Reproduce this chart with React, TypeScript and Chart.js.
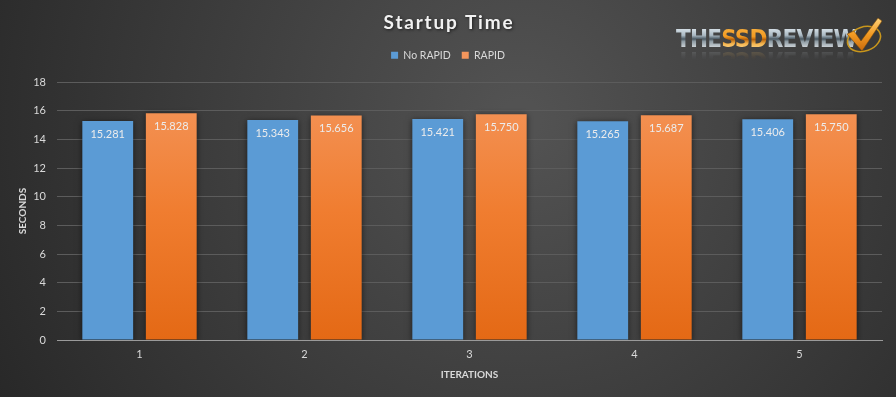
import React, { useEffect, useRef } from "react";
import { Chart, registerables } from "chart.js";

Chart.register(...registerables);

const categories = ["1", "2", "3", "4", "5"];
const noRapid = [15.281, 15.343, 15.421, 15.265, 15.406];
const rapid = [15.828, 15.656, 15.75, 15.687, 15.75];
const seriesNames = ["No RAPID", "RAPID"];
const titleText = "Startup Time";

const FONT = "Lato, 'Open Sans', sans-serif";

const bgPlugin = {
  id: "bg",
  beforeDraw(chart: any) {
    const { ctx, width, height } = chart;
    ctx.save();
    const g = ctx.createRadialGradient(520, 120, 20, 520, 120, 620);
    g.addColorStop(0, "#525252");
    g.addColorStop(1, "#262626");
    ctx.fillStyle = g;
    ctx.fillRect(0, 0, width, height);
    ctx.restore();
  },
};

const titlePlugin = {
  id: "customTitle",
  afterDraw(chart: any) {
    const ctx = chart.ctx;
    ctx.save();
    ctx.font = `bold 19px ${FONT}`;
    (ctx as any).letterSpacing = "1.8px";
    ctx.fillStyle = "#f2f2f2";
    ctx.textAlign = "center";
    ctx.textBaseline = "middle";
    ctx.shadowColor = "rgba(0,0,0,0.6)";
    ctx.shadowBlur = 3;
    ctx.shadowOffsetX = 1;
    ctx.shadowOffsetY = 1;
    ctx.fillText(titleText, 449, 23);
    ctx.restore();
  },
};

const legendHeightPlugin = {
  id: "legendHeight",
  beforeInit(chart: any) {
    const orig = chart.legend.fit;
    chart.legend.fit = function () {
      orig.bind(this)();
      this.height = 43;
    };
  },
};

const shadowPlugin = {
  id: "barShadow",
  beforeDatasetDraw(chart: any) {
    const ctx = chart.ctx;
    ctx.save();
    ctx.shadowColor = "rgba(0,0,0,0.55)";
    ctx.shadowBlur = 6;
    ctx.shadowOffsetX = 0;
    ctx.shadowOffsetY = 1;
  },
  afterDatasetDraw(chart: any) {
    chart.ctx.restore();
  },
};

const labelPlugin = {
  id: "valLabels",
  afterDatasetsDraw(chart: any) {
    const ctx = chart.ctx;
    ctx.save();
    ctx.font = `11px ${FONT}`;
    ctx.fillStyle = "#ececec";
    ctx.textAlign = "center";
    ctx.textBaseline = "middle";
    chart.data.datasets.forEach((ds: any, i: number) => {
      const meta = chart.getDatasetMeta(i);
      meta.data.forEach((bar: any, j: number) => {
        const v = ds.data[j] as number;
        ctx.fillText(v.toFixed(3), bar.x, bar.y + 13);
      });
    });
    ctx.restore();
  },
};

const chrome = {
  background: "linear-gradient(#dfe8ee 0%, #a9b8c2 35%, #4a5862 50%, #8f9ca4 60%, #f2f5f7 100%)",
  WebkitBackgroundClip: "text",
  backgroundClip: "text",
  color: "transparent",
} as any;
const gold = {
  background: "linear-gradient(#f7b040 0%, #f29a22 40%, #b8620a 52%, #f5b650 70%, #ffe2a0 100%)",
  WebkitBackgroundClip: "text",
  backgroundClip: "text",
  color: "transparent",
} as any;

function Logo() {
  return (
    <>
      <div
        style={{
          position: "absolute",
          left: 676,
          top: 27,
          height: 24,
          lineHeight: "24px",
          display: "flex",
          fontFamily: "'DejaVu Sans Condensed', 'Liberation Sans Narrow', sans-serif",
          fontWeight: 700,
          fontSize: 24,
          letterSpacing: -0.8,
          whiteSpace: "nowrap",
          WebkitBoxReflect: "below -3px linear-gradient(transparent 50%, rgba(255,255,255,0.22))",
        } as any}
      >
        <span style={chrome}>THE</span>
        <span style={gold}>SSD</span>
        <span style={chrome}>REVIEW</span>
      </div>
      <svg
        style={{ position: "absolute", left: 843, top: 14 }}
        width={42}
        height={42}
        viewBox="0 0 42 42"
      >
        <defs>
          <linearGradient id="ck" x1="0" y1="0" x2="0" y2="1">
            <stop offset="0" stopColor="#ffd27a" />
            <stop offset="0.5" stopColor="#f29a22" />
            <stop offset="1" stopColor="#c86a0c" />
          </linearGradient>
        </defs>
        <ellipse cx="21" cy="25" rx="17" ry="12" fill="none" stroke="#c8961c" strokeWidth="1.6" transform="rotate(-20 21 25)" />
        <path d="M4 20 L11 17 L18 27 L35 4 L39 7 L19 37 Z" fill="url(#ck)" stroke="#7a4a08" strokeWidth="0.6" />
      </svg>
    </>
  );
}

export default function App() {
  const ref = useRef<HTMLCanvasElement>(null);
  useEffect(() => {
    document.body.style.margin = "0";
    const canvas = ref.current!;
    const chart = new Chart(canvas, {
      type: "bar",
      data: {
        labels: categories,
        datasets: [
          {
            label: seriesNames[0],
            data: noRapid,
            backgroundColor: "#5b9bd5",
            categoryPercentage: 0.77,
            barPercentage: 0.8,
          },
          {
            label: seriesNames[1],
            data: rapid,
            backgroundColor: (c: any) => {
              const ca = c.chart.chartArea;
              if (!ca) return "#ed7d31";
              const g = c.chart.ctx.createLinearGradient(0, ca.top, 0, ca.bottom);
              g.addColorStop(0, "#f4965c");
              g.addColorStop(0.5, "#f07d30");
              g.addColorStop(1, "#e46915");
              return g;
            },
            categoryPercentage: 0.77,
            barPercentage: 0.8,
          },
        ],
      },
      options: {
        responsive: false,
        animation: false,
        devicePixelRatio: 1,
        layout: { padding: { left: 14, right: 14, top: 39, bottom: 0 } },
        plugins: {
          title: { display: false },
          legend: {
            display: true,
            position: "top",
            labels: {
              color: "#d9d9d9",
              font: { family: FONT, size: 10.5 },
              boxWidth: 7,
              boxHeight: 7,
              padding: 11,
            },
          },
          tooltip: { enabled: false },
        },
        scales: {
          x: {
            afterFit(scale: any) {
              scale.height = 57;
            },
            grid: { display: false, drawTicks: false },
            border: { color: "#9a9a9a", width: 1 },
            ticks: { color: "#d9d9d9", font: { family: FONT, size: 11 }, padding: 8 },
            title: {
              display: true,
              text: "ITERATIONS",
              color: "#d9d9d9",
              font: { family: FONT, size: 10, weight: "bold" },
              padding: { top: 0, bottom: 16 },
            },
          },
          y: {
            afterFit(scale: any) {
              scale.width = 43;
            },
            min: 0,
            max: 18,
            ticks: { stepSize: 2, color: "#d9d9d9", font: { family: FONT, size: 11 }, padding: 11 },
            grid: { color: "#5c5c5c", drawTicks: false },
            border: { display: false },
            title: {
              display: true,
              text: "SECONDS",
              color: "#d9d9d9",
              font: { family: FONT, size: 10, weight: "bold" },
              padding: { top: 3, bottom: 0 },
            },
          },
        },
      },
      plugins: [bgPlugin, legendHeightPlugin, shadowPlugin, labelPlugin, titlePlugin],
    });
    return () => chart.destroy();
  }, []);
  return (
    <div style={{ position: "fixed", left: 0, top: 0, width: 896, height: 397 }}>
      <canvas ref={ref} width={896} height={397} style={{ display: "block" }} />
      <Logo />
    </div>
  );
}
